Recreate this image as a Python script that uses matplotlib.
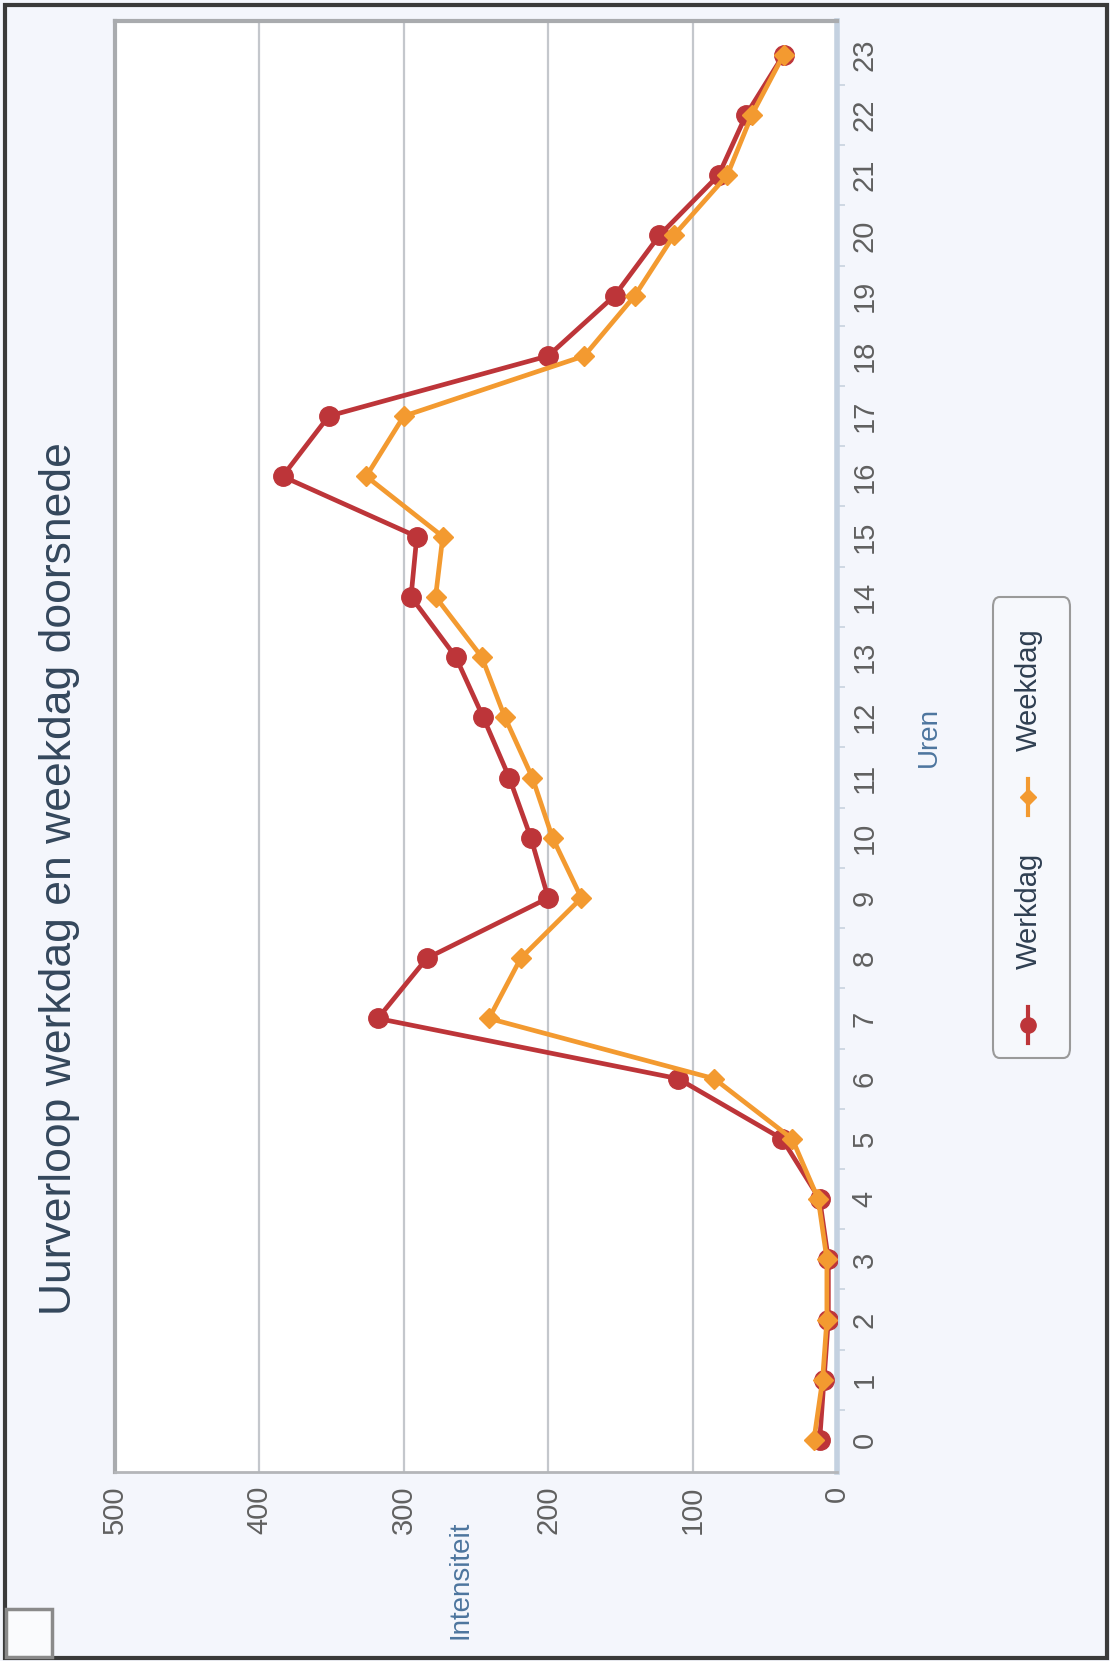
import matplotlib
matplotlib.use("Agg")
import matplotlib.pyplot as plt
from matplotlib.patches import FancyBboxPatch, Rectangle
from matplotlib.lines import Line2D

plt.rcParams['font.family'] = ['Liberation Sans', 'DejaVu Sans']

# Hourly intensity, average working day vs. average week day
hours = list(range(24))
werkdag = [12, 9, 6, 6, 12, 38, 110, 318, 284, 200, 212, 227, 245, 264, 295, 291,
           384, 352, 200, 154, 123, 82, 63, 37]
weekdag = [16, 10, 7, 7, 13, 31, 85, 241, 219, 177, 197, 211, 230, 246, 278, 273,
           326, 300, 175, 140, 113, 76, 59, 37]
intensity_ticks = [0, 100, 200, 300, 400, 500]

title = "Uurverloop werkdag en weekdag doorsnede"
series_names = ["Werkdag", "Weekdag"]

RED = "#bd3539"
ORANGE = "#f39a30"
LABEL = "#606060"
AXIS_TITLE = "#4d759e"
TITLE_COL = "#34475c"

W, H = 1110, 1661
fig = plt.figure(figsize=(W / 100, H / 100), dpi=100)
fig.patch.set_facecolor("#f4f6fc")

def fx(px):
    return px / W

def fy(py):
    return 1 - py / H

# outer frame
fig.patches.append(Rectangle((fx(5), fy(1658)), fx(1102), (1653) / H,
                             transform=fig.transFigure, fill=False,
                             edgecolor="#3a3a3a", linewidth=3, zorder=0))
# small box in the lower left corner
fig.patches.append(Rectangle((fx(6), fy(1657)), fx(46), 48 / H,
                             transform=fig.transFigure, facecolor="#fafbfd",
                             edgecolor="#8a8a8a", linewidth=2.5, zorder=1))

left, right, top, bottom = 115, 837, 21, 1472
ax = fig.add_axes([fx(left), fy(bottom), fx(right - left), (bottom - top) / H])
ax.set_facecolor("white")

ax.set_xlim(500, 0)
ax.set_ylim(-0.53, 23.56)

for v in intensity_ticks[1:-1]:
    ax.axvline(v, color="#c4c7cc", linewidth=1.6, zorder=1)

ax.plot(werkdag, hours, color=RED, linewidth=3.4, marker="o", markersize=14,
        markerfacecolor=RED, markeredgecolor=RED, zorder=3, solid_joinstyle="round")
ax.plot(weekdag, hours, color=ORANGE, linewidth=3.4, marker="D", markersize=10,
        markerfacecolor=ORANGE, markeredgecolor=ORANGE, zorder=4, solid_joinstyle="round")

# axis ticks and labels
ax.set_xticks(intensity_ticks)
ax.set_xticklabels([str(t) for t in intensity_ticks], rotation=90,
                   fontsize=21, color=LABEL)
ax.tick_params(axis="x", length=0, pad=10)
ax.yaxis.tick_right()
ax.set_yticks(hours)
ax.set_yticklabels([str(h) for h in hours], rotation=90, fontsize=21,
                   color=LABEL, va="center", ha="center")
ax.tick_params(axis="y", length=0, pad=20)
ax.set_yticks([h + 0.5 for h in hours[:-1]], minor=True)
ax.tick_params(axis="y", which="minor", length=6, color="#c8d2de", width=1.2)

for side in ["top", "left"]:
    ax.spines[side].set_color("#a9abae")
    ax.spines[side].set_linewidth(3)
ax.spines["bottom"].set_color("#b4b6b9")
ax.spines["bottom"].set_linewidth(2)
ax.spines["right"].set_color("#c4d1e0")
ax.spines["right"].set_linewidth(4)

# titles
fig.text(fx(60), fy(879), title, rotation=90, fontsize=32, color=TITLE_COL,
         ha="center", va="center")
fig.text(fx(929), fy(737), "Uren", rotation=90, fontsize=20, color=AXIS_TITLE,
         ha="center", va="center")
fig.text(fx(461), fy(1580), "Intensiteit", rotation=90, fontsize=20,
         color=AXIS_TITLE, ha="center", va="center")

# legend
fig.patches.append(FancyBboxPatch((fx(993), fy(1058)), fx(77), 461 / H,
                                  boxstyle="round,pad=0,rounding_size=0.006",
                                  transform=fig.transFigure, facecolor="#f6f8fc",
                                  edgecolor="#9a9a9a", linewidth=1.5))
legend_items = [(series_names[0], RED, "o", 11, 1025, 911),
                (series_names[1], ORANGE, "D", 8, 797, 690)]
for name, col, mk, ms, my, ty in legend_items:
    fig.lines.append(Line2D([fx(1028), fx(1028)], [fy(my + 18), fy(my - 18)],
                            transform=fig.transFigure, color=col, linewidth=3))
    fig.lines.append(Line2D([fx(1028)], [fy(my)], transform=fig.transFigure,
                            marker=mk, markersize=ms, color=col, linestyle="none"))
    fig.text(fx(1029), fy(ty), name, rotation=90, fontsize=21,
             color="#2f3f52", ha="center", va="center")

fig.savefig("out.png", dpi=100, facecolor=fig.get_facecolor())
